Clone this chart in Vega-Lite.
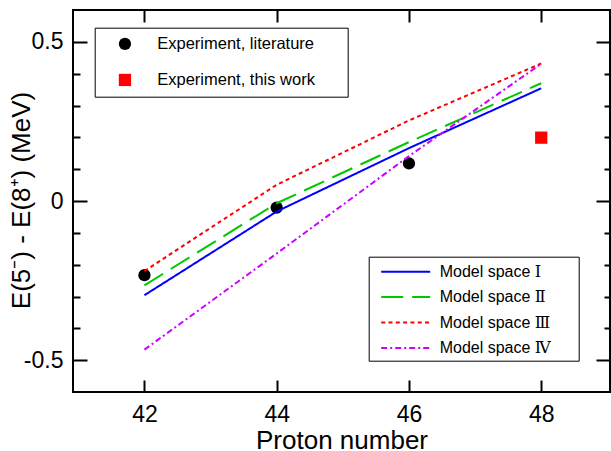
{
  "$schema": "https://vega.github.io/schema/vega-lite/v6.json",
  "autosize": "none",
  "padding": {"left": 73, "top": 10, "right": 1, "bottom": 59},
  "width": 537,
  "height": 382,
  "background": "white",
  "config": {
    "font": "Liberation Sans",
    "view": {"stroke": "black", "strokeWidth": 2},
    "axis": {"domain": false, "grid": false, "tickColor": "black", "tickWidth": 2, "labelColor": "black", "titleColor": "black", "titleFontWeight": "normal", "labelFont": "Liberation Sans", "titleFont": "Liberation Sans"},
    "legend": {"labelFont": "Liberation Sans, DejaVu Serif, DejaVu Sans", "labelColor": "black", "labelLimit": 400}
  },
  "datasets": {
    "exp": [
      {"Z": 42, "E": -0.233, "source": "Experiment, literature"},
      {"Z": 44, "E": -0.021, "source": "Experiment, literature"},
      {"Z": 46, "E": 0.118, "source": "Experiment, literature"},
      {"Z": 48, "E": 0.199, "source": "Experiment, this work"}
    ],
    "model": [
      {"Z": 42, "E": -0.296, "model": "Model space Ⅰ"},
      {"Z": 44, "E": -0.033, "model": "Model space Ⅰ"},
      {"Z": 46, "E": 0.166, "model": "Model space Ⅰ"},
      {"Z": 48, "E": 0.354, "model": "Model space Ⅰ"},
      {"Z": 42, "E": -0.265, "model": "Model space Ⅱ"},
      {"Z": 44, "E": -0.007, "model": "Model space Ⅱ"},
      {"Z": 46, "E": 0.185, "model": "Model space Ⅱ"},
      {"Z": 48, "E": 0.370, "model": "Model space Ⅱ"},
      {"Z": 42, "E": -0.220, "model": "Model space Ⅲ"},
      {"Z": 44, "E": 0.051, "model": "Model space Ⅲ"},
      {"Z": 46, "E": 0.253, "model": "Model space Ⅲ"},
      {"Z": 48, "E": 0.432, "model": "Model space Ⅲ"},
      {"Z": 42, "E": -0.467, "model": "Model space Ⅳ"},
      {"Z": 44, "E": -0.165, "model": "Model space Ⅳ"},
      {"Z": 46, "E": 0.141, "model": "Model space Ⅳ"},
      {"Z": 48, "E": 0.431, "model": "Model space Ⅳ"}
    ]
  },
  "resolve": {"axis": {"x": "independent", "y": "independent"}},
  "layer": [
    {
      "data": {"name": "exp"},
      "mark": {"type": "point", "filled": true, "opacity": 1, "size": 150, "strokeWidth": 0},
      "encoding": {
        "x": {"field": "Z", "type": "quantitative", "scale": {"domain": [40.92, 49.04], "nice": false, "zero": false},
          "axis": {"orient": "top", "values": [42, 44, 46, 48], "tickSize": {"condition": {"test": "datum.value > 0", "value": -12}, "value": -12}, "labels": false, "title": null}},
        "y": {"field": "E", "type": "quantitative", "scale": {"domain": [-0.6, 0.6], "nice": false, "zero": false},
          "axis": {"orient": "right", "values": [-0.5, -0.4, -0.3, -0.2, -0.1, 0, 0.1, 0.2, 0.3, 0.4, 0.5],
            "tickSize": {"condition": {"test": "abs(datum.value) > 0.45 || abs(datum.value) < 0.05", "value": -14}, "value": -6}, "labels": false, "title": null}},
        "color": {"field": "source", "type": "nominal",
          "scale": {"domain": ["Experiment, literature", "Experiment, this work"], "range": ["black", "#ff0000"]},
          "legend": {"orient": "none", "legendX": 21.7, "legendY": 17.7, "title": null, "strokeColor": "black", "fillColor": "white", "padding": 8, "symbolOffset": 14, "labelOffset": 24, "rowPadding": 19, "labelFontSize": 16.5, "symbolSize": 150, "symbolStrokeWidth": 0, "labelExpr": "datum.label + '\u2800\u2800'"}},
        "shape": {"field": "source", "type": "nominal",
          "scale": {"domain": ["Experiment, literature", "Experiment, this work"], "range": ["circle", "square"]},
          "legend": {"orient": "none", "legendX": 21.7, "legendY": 17.7, "title": null, "strokeColor": "black", "fillColor": "white", "padding": 8, "symbolOffset": 14, "labelOffset": 24, "rowPadding": 19, "labelFontSize": 16.5, "symbolSize": 150, "symbolStrokeWidth": 0, "labelExpr": "datum.label + '\u2800\u2800'"}}
      }
    },
    {
      "data": {"name": "model"},
      "mark": {"type": "line", "strokeWidth": 2},
      "encoding": {
        "x": {"field": "Z", "type": "quantitative", "scale": {"domain": [40.92, 49.04], "nice": false, "zero": false},
          "axis": {"orient": "bottom", "values": [42, 44, 46, 48], "tickSize": {"condition": {"test": "datum.value > 0", "value": -12}, "value": -12}, "labelFontSize": 23, "labelPadding": 23, "title": "Proton number", "titleFontSize": 26, "titleBaseline": "alphabetic", "titleY": 56.5}},
        "y": {"field": "E", "type": "quantitative", "scale": {"domain": [-0.6, 0.6], "nice": false, "zero": false},
          "axis": {"orient": "left", "values": [-0.5, -0.4, -0.3, -0.2, -0.1, 0, 0.1, 0.2, 0.3, 0.4, 0.5],
            "tickSize": {"condition": {"test": "abs(datum.value) > 0.45 || abs(datum.value) < 0.05", "value": -14}, "value": -7},
            "labelExpr": "datum.value > 0.45 ? '0.5' : datum.value < -0.45 ? '-0.5' : abs(datum.value) < 0.05 ? '0' : ''",
            "labelFontSize": 23, "labelPadding": 24,
            "title": "E(5⁻) - E(8⁺) (MeV)", "titleFontSize": 26, "titleBaseline": "middle", "titleX": -51.5, "titleY": 190}},
        "stroke": {"field": "model", "type": "nominal",
          "scale": {"domain": ["Model space Ⅰ", "Model space Ⅱ", "Model space Ⅲ", "Model space Ⅳ"], "range": ["#0000ff", "#00c800", "#ff0000", "#cc00ff"]},
          "legend": {"orient": "none", "legendX": 295.7, "legendY": 246.7, "title": null, "strokeColor": "black", "fillColor": "white", "padding": 4, "symbolType": "M-2.5,0H2.5", "symbolSize": 384, "symbolStrokeWidth": 2, "symbolOffset": 22, "labelOffset": 23, "rowPadding": 6.4, "labelFontSize": 16, "labelExpr": "datum.label + '\u2800\u2800'"}},
        "strokeDash": {"field": "model", "type": "nominal",
          "scale": {"domain": ["Model space Ⅰ", "Model space Ⅱ", "Model space Ⅲ", "Model space Ⅳ"], "range": [[1, 0], [22, 9], [4, 3.3], [6, 3, 2, 3]]},
          "legend": {"orient": "none", "legendX": 295.7, "legendY": 246.7, "title": null, "strokeColor": "black", "fillColor": "white", "padding": 4, "symbolType": "M-2.5,0H2.5", "symbolSize": 384, "symbolStrokeWidth": 2, "symbolOffset": 22, "labelOffset": 23, "rowPadding": 6.4, "labelFontSize": 16, "labelExpr": "datum.label + '\u2800\u2800'"}}
      }
    }
  ]
}
